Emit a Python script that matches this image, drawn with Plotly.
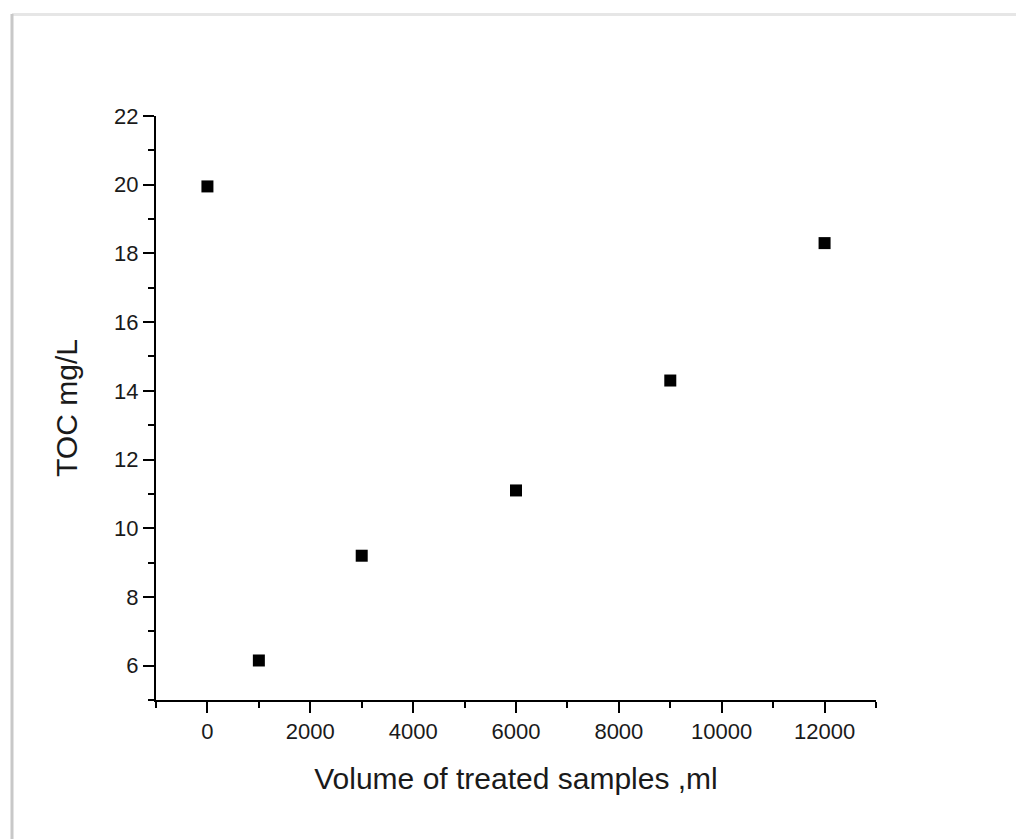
import plotly.graph_objects as go

# TOC of treated samples vs. cumulative treated volume
volume_ml = [0, 1000, 3000, 6000, 9000, 12000]
toc_mg_l = [19.95, 6.15, 9.2, 11.1, 14.3, 18.3]

x_ticks = [0, 2000, 4000, 6000, 8000, 10000, 12000]
x_tick_labels = ["0", "2000", "4000", "6000", "8000", "10000", "12000"]
y_ticks = [6, 8, 10, 12, 14, 16, 18, 20, 22]
y_tick_labels = ["6", "8", "10", "12", "14", "16", "18", "20", "22"]

W, H = 1016, 839
L, R, T, B = 156, 140, 116, 139
pw, ph = W - L - R, H - T - B

def px(x):
    return (x - L) / pw

def py(y):
    return (H - B - y) / ph

fig = go.Figure()
fig.add_trace(go.Scatter(
    x=volume_ml, y=toc_mg_l, mode="markers",
    marker=dict(symbol="square", size=12, color="black"),
    showlegend=False,
))

font_family = "Liberation Sans, Arial, sans-serif"
axis_common = dict(
    showline=True, linecolor="black", linewidth=2,
    ticks="outside", ticklen=11, tickwidth=2, tickcolor="black",
    showgrid=False, zeroline=False, mirror=False,
    tickfont=dict(family=font_family, size=22, color="#1a1a1a"),
)

fig.update_layout(
    width=W, height=H,
    margin=dict(l=L, r=R, t=T, b=B),
    paper_bgcolor="white", plot_bgcolor="white",
    xaxis=dict(
        range=[-1000, 13000], tickvals=x_ticks, ticktext=x_tick_labels,
        minor=dict(dtick=1000, tick0=-1000, ticks="outside", ticklen=6,
                   tickwidth=2, tickcolor="black"),
        title=dict(text="Volume of treated samples ,ml", standoff=25,
                   font=dict(family=font_family, size=30, color="#1a1a1a")),
        **axis_common,
    ),
    yaxis=dict(
        range=[5, 22], tickvals=y_ticks, ticktext=y_tick_labels,
        minor=dict(dtick=1, tick0=5, ticks="outside", ticklen=6,
                   tickwidth=2, tickcolor="black"),
        title=dict(text="TOC mg/L", standoff=28,
                   font=dict(family=font_family, size=30, color="#1a1a1a")),
        **axis_common,
    ),
    shapes=[
        # frame edges around the figure panel
        dict(type="line", xref="paper", yref="paper",
             x0=px(12), x1=px(W + 5), y0=py(14.5), y1=py(14.5),
             line=dict(color="#e6e6e6", width=3)),
        dict(type="line", xref="paper", yref="paper",
             x0=px(12), x1=px(12), y0=py(14), y1=py(H + 5),
             line=dict(color="#c8c8c8", width=3)),
    ],
)

fig.write_html("out.html")
